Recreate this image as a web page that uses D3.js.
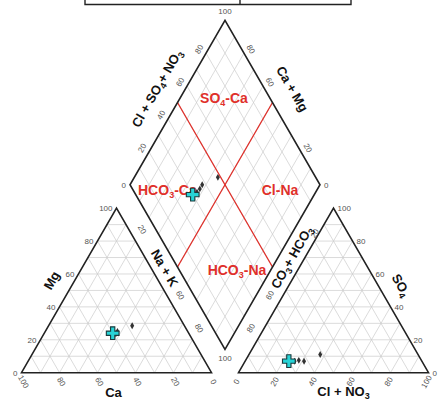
<!DOCTYPE html>
<html><head><meta charset="utf-8">
<script src="https://cdn.jsdelivr.net/npm/d3@7"></script>
<style>body{margin:0;background:#fff}svg{display:block}</style>
</head><body>
<svg id="c" width="440" height="400"></svg>
<script>
// ---- data ----
const sampleIds = ["A1","A2","A3","A4","B1"];
const sampleGroup = ["black","black","black","black","cyan"];
const caPct   = [39, 38, 37, 27.5, 40];
const mgPct   = [23.5, 24, 25, 28.5, 24];
const nakPct  = [37.5, 38, 38, 44, 36];
const so4Pct  = [7, 7.5, 7, 11, 7];
const clPct   = [26, 28, 31, 37.5, 23];
const hco3Pct = [67, 64.5, 62, 51.5, 70];
const tickValues = [0, 20, 40, 60, 80, 100];
const gridValues = [10, 20, 30, 40, 50, 60, 70, 80, 90];
const regionNames = ["SO4-Ca", "HCO3-Ca", "Cl-Na", "HCO3-Na"];

// ---- geometry ----
const svg = d3.select("#c");
const S = 190, H = S * Math.sqrt(3) / 2, G = 27, x0 = 21.5, yB = 372.7;
const x1 = x0 + S + G;
const f = d3.scaleLinear().domain([0, 100]).range([0, 1]);
const FONT = "'Liberation Sans', Arial, sans-serif";

function L(ca, mg, nak) { return [x0 + S * f(nak + mg / 2), yB - H * f(mg)]; }
function R(hco3, so4, cl) { return [x1 + S * f(cl + so4 / 2), yB - H * f(so4)]; }
const dB = [x0 + S + G / 2, yB - G * Math.sqrt(3) / 2];
const dL = [dB[0] - S / 2, dB[1] - H], dR = [dB[0] + S / 2, dB[1] - H], dT = [dB[0], dB[1] - 2 * H];
function D(camg, anion) { // anion = Cl+SO4
  const c = f(camg), a = f(anion);
  return [dB[0] + c * (dL[0] - dB[0]) + a * (dR[0] - dB[0]), dB[1] + c * (dL[1] - dB[1]) + a * (dR[1] - dB[1])];
}
const lerp = (p, q, t) => [p[0] + (q[0] - p[0]) * t, p[1] + (q[1] - p[1]) * t];

const gGrid = svg.append("g").attr("stroke", "#cbcbcb").attr("stroke-width", 0.7).attr("fill", "none");
const line = d3.line();

// triangle grids
const LT = { bl: [x0, yB], br: [x0 + S, yB], t: [x0 + S / 2, yB - H] };
const RT = { bl: [x1, yB], br: [x1 + S, yB], t: [x1 + S / 2, yB - H] };
[LT, RT].forEach(T => {
  gridValues.forEach(v => {
    const t = f(v);
    gGrid.append("path").attr("d", line([lerp(T.bl, T.t, t), lerp(T.br, T.t, t)]));
    gGrid.append("path").attr("d", line([lerp(T.bl, T.br, t), lerp(T.t, T.br, t)]));
    gGrid.append("path").attr("d", line([lerp(T.br, T.bl, t), lerp(T.t, T.bl, t)]));
  });
});
// diamond grid
gridValues.forEach(v => {
  gGrid.append("path").attr("d", line([D(v, 0), D(v, 100)]));
  gGrid.append("path").attr("d", line([D(0, v), D(100, v)]));
});

// red region lines
const gRed = svg.append("g").attr("stroke", "#e0302a").attr("stroke-width", 1.3);
gRed.append("path").attr("d", line([D(100, 50), D(0, 50)]));
gRed.append("path").attr("d", line([D(50, 100), D(50, 0)]));

// outlines
const gOut = svg.append("g").attr("stroke", "#222").attr("stroke-width", 1.6).attr("fill", "none").attr("stroke-linejoin", "miter");
gOut.append("path").attr("d", line([LT.bl, LT.br, LT.t]) + "Z");
gOut.append("path").attr("d", line([RT.bl, RT.br, RT.t]) + "Z");
gOut.append("path").attr("d", line([dB, dR, dT, dL]) + "Z");

// top table remnant
const gTab = svg.append("g").attr("stroke", "#222").attr("stroke-width", 1.4).attr("fill", "none");
gTab.append("path").attr("d", line([[85, -2], [85, 4.5], [351, 4.5], [351, -2]]));
gTab.append("path").attr("d", line([[240, -2], [240, 4.5]]));

// ---- tick labels ----
const gT = svg.append("g").attr("font-family", FONT).attr("font-size", 8).attr("fill", "#555");
function txt(p, s, rot, anchor) {
  gT.append("text").attr("transform", `translate(${p[0]},${p[1]}) rotate(${rot || 0})`)
    .attr("text-anchor", anchor || "middle").attr("dy", "0.35em").text(s);
}
// left triangle: Mg on left edge
tickValues.forEach(v => { const p = lerp(LT.bl, LT.t, f(v)); txt([p[0] - 4, p[1]], v, 0, "end"); });
// left triangle: Ca bottom (100 at left)
tickValues.forEach(v => { const p = lerp(LT.br, LT.bl, f(v)); txt([p[0] + 2, p[1] + 9], v, 60); });
// right triangle: Cl + NO3 bottom
tickValues.forEach(v => { const p = lerp(RT.bl, RT.br, f(v)); txt([p[0] - 2, p[1] + 9], v, -60); });
// right triangle: SO4 right edge
tickValues.forEach(v => { const p = lerp(RT.br, RT.t, f(v)); txt([p[0] + 4, p[1]], v, 0, "start"); });
// diamond vertices
txt([dT[0], dT[1] - 9], 100);
txt([dL[0] - 4, dL[1]], 0, 0, "end");
txt([dR[0] + 4, dR[1]], 0, 0, "start");
txt([dB[0], dB[1] + 9], 100);
// diamond upper edges
[20, 40, 60, 80].forEach(v => {
  const p = lerp(dL, dT, f(v)); txt([p[0] - 0.866 * 8, p[1] - 0.5 * 8], v, -60);
  const q = lerp(dR, dT, f(v)); if (v !== 40) txt([q[0] + 0.866 * 8, q[1] - 0.5 * 8], v, 60);
});
// gaps
const gapL0 = lerp(LT.t, dL, 0.5), gapL1 = lerp(LT.br, dB, 0.5);
const gapR0 = lerp(RT.t, dR, 0.5), gapR1 = lerp(RT.bl, dB, 0.5);
[20, 60, 80].forEach(v => {
  txt(lerp(gapL0, gapL1, f(v)), v, 60);
  const q = lerp(gapR0, gapR1, f(v));
  txt(v === 20 ? [q[0] + 0.866 * 8, q[1] + 0.5 * 8] : q, v, -60);
});

// ---- axis titles ----
const gA = svg.append("g").attr("font-family", FONT).attr("font-size", 13).attr("font-weight", "bold").attr("fill", "#111");
function title(p, rot, parts) {
  const t = gA.append("text").attr("transform", `translate(${p[0]},${p[1]}) rotate(${rot})`)
    .attr("text-anchor", "middle").attr("dy", "0.35em");
  let prevSub = false;
  parts.forEach(([s, sub]) => {
    const ts = t.append("tspan").text(s);
    if (sub) { ts.attr("font-size", 9).attr("dy", 3); prevSub = true; }
    else if (prevSub) { ts.attr("dy", -3); prevSub = false; }
  });
}
function off(p, n, d) { return [p[0] + n[0] * d, p[1] + n[1] * d]; }
title(off(lerp(dL, dT, 0.51), [-0.866, -0.5], 25), -60, [["Cl + SO"], ["4", 1], ["+ NO"], ["3", 1]]);
title(off(lerp(dR, dT, 0.51), [0.866, -0.5], 24), 60, [["Ca + Mg"]]);
title(lerp(gapL0, gapL1, 0.435), 60, [["Na + K"]]);
title(lerp(gapR0, gapR1, 0.37), -60, [["CO"], ["3", 1], ["+ HCO"], ["3", 1]]);
title(off(lerp(LT.bl, LT.t, 0.5), [-0.866, -0.5], 20), -60, [["Mg"]]);
title(off(lerp(RT.br, RT.t, 0.47), [0.866, -0.5], 20), 60, [["SO"], ["4", 1]]);
title([(LT.bl[0] + LT.br[0]) / 2 - 3, 392], 0, [["Ca"]]);
title([(RT.bl[0] + RT.br[0]) / 2 + 10, 391], 0, [["Cl + NO"], ["3", 1]]);

// ---- region labels ----
const gR = svg.append("g").attr("font-family", FONT).attr("font-size", 14).attr("font-weight", "bold").attr("fill", "#e0302a");
function region(p, main, sub, rest, anchor) {
  const t = gR.append("text").attr("x", p[0]).attr("y", p[1]).attr("text-anchor", anchor || "middle").attr("dy", "0.35em");
  t.append("tspan").text(main);
  if (sub) { t.append("tspan").text(sub).attr("font-size", 9).attr("dy", 3); t.append("tspan").text(rest).attr("dy", -3); }
}
region([224, 98], "SO", "4", "-Ca");
region([138, 190], "HCO", "3", "-Ca", "start");
region([280, 190], "Cl-Na");
region([237, 270], "HCO", "3", "-Na");

// ---- samples ----
const samples = sampleIds.map((id, i) => ({ id, g: sampleGroup[i], ca: caPct[i], mg: mgPct[i], nak: nakPct[i], so4: so4Pct[i], cl: clPct[i], hco3: hco3Pct[i] }));
const ordered = samples.filter(d => d.g === "black").concat(samples.filter(d => d.g === "cyan"));
const gP = svg.append("g");
ordered.forEach(d => {
  const pts = [L(d.ca, d.mg, d.nak), R(d.hco3, d.so4, d.cl), D(d.ca + d.mg, d.cl + d.so4)];
  pts.forEach(p => {
    if (d.g === "cyan") {
      gP.append("path").attr("d", d3.symbol(d3.symbolCross, 90)()).attr("transform", `translate(${p[0]},${p[1]})`)
        .attr("fill", "#27d3d6").attr("stroke", "#1b3a3c").attr("stroke-width", 1.1);
    } else {
      gP.append("path").attr("d", d3.symbol(d3.symbolDiamond, 14)()).attr("transform", `translate(${p[0]},${p[1]})`)
        .attr("fill", "#333");
    }
  });
});
</script>
</body></html>
